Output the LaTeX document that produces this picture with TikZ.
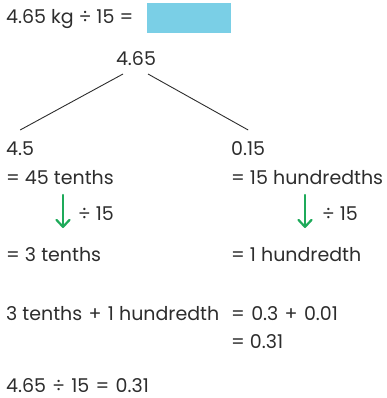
\documentclass[tikz,border=0pt]{standalone}
\usepackage{fontspec}
\setmainfont{Poppins}
\usepackage{xcolor}
\usepackage{tikz}
\usetikzlibrary{arrows.meta, calc, positioning}
\definecolor{myink}{RGB}{45, 45, 45}
\definecolor{mycyan}{RGB}{122, 207, 230}
\definecolor{mygreen}{RGB}{30, 170, 90}
\tikzstyle{txt} = [anchor=base west, inner sep=0pt, text=myink, font=\fontsize{19}{22}\selectfont]
\tikzstyle{branch} = [line width=0.9pt, myink]
\tikzstyle{divarrow} = [line width=2.2pt, mygreen, line cap=round, -{Straight Barb[length=7pt,width=13pt,round]}]

\begin{document}
\begin{tikzpicture}[x=1pt, y=-1pt]
\useasboundingbox (0,0) rectangle (387,398);

% question
\node[txt] (question) at (6,24) {4.65 kg ÷ 15 =};
\fill[mycyan] (147,3) rectangle (231,33);

% partition
\node[txt, anchor=base] (whole) at (136,66) {4.65};
\node[txt] (tenths) at (6,155) {4.5};
\node[txt] (hundredths) at (231,155) {0.15};
\draw[branch] ([xshift=-13pt,yshift=-8pt]whole.base) -- ([yshift=25pt]tenths.base);
\draw[branch] ([xshift=12pt,yshift=-8pt]whole.base) -- ([yshift=25pt]hundredths.base);

\node[txt] (tenthsA) at (6,184) {= 45 tenths};
\node[txt] (tenthsB) at (6,261) {= 3 tenths};
\node[txt] (hundA) at (231,184) {= 15 hundredths};
\node[txt] (hundB) at (231,261) {= 1 hundredth};

% divide each part
\coordinate (ltop) at (63,195);
\coordinate (lbot) at (63,228);
\coordinate (rtop) at (305,195);
\coordinate (rbot) at (305,228);
\draw[divarrow] (ltop) -- (lbot);
\draw[divarrow] (rtop) -- (rbot);
\node[txt] (ldiv) at (78,220) {÷ 15};
\node[txt] (rdiv) at (322,220) {÷ 15};

% recombine
\node[txt] (sumL) at (6,320) {3 tenths\,\,+\,\,1 hundredth};
\node[txt] (sumR) at (231,320) {=\,\,0.3\,\,+\,\,0.01};
\node[txt] (sumB) at (231,348) {= 0.31};
\node[txt] (answer) at (6,392) {4.65\,\,÷\,\,15\,\,=\,\,0.31};
\end{tikzpicture}
\end{document}
